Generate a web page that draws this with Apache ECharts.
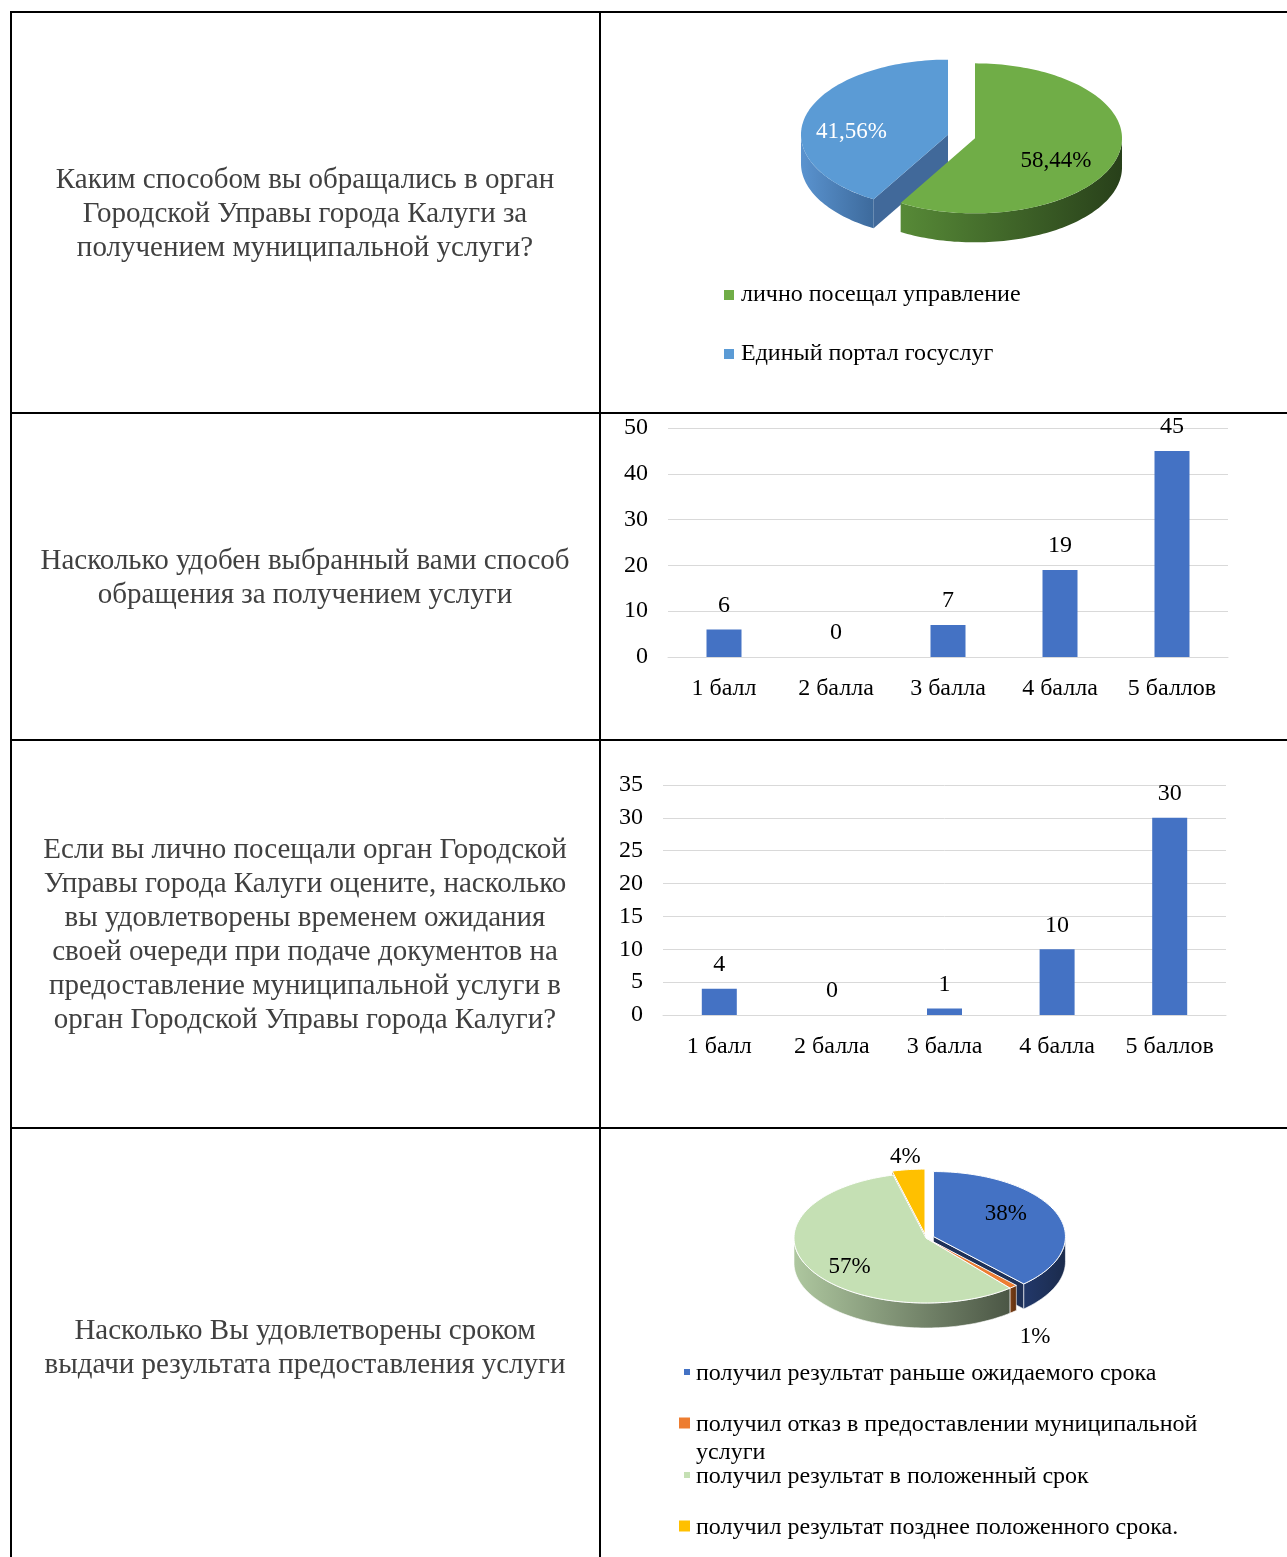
<!DOCTYPE html>
<html>
<head>
<meta charset="utf-8">
<script src="https://cdn.jsdelivr.net/npm/echarts@6/dist/echarts.min.js"></script>
<style>
  html, body { margin: 0; padding: 0; background: #fff; }
  #chart { width: 1287px; height: 1557px; }
</style>
</head>
<body>
<div id="chart"></div>
<script>
  // вопросы анкеты (левая колонка)
  const questions = [
    'Каким способом вы обращались в орган\nГородской Управы города Калуги за\nполучением муниципальной услуги?',
    'Насколько удобен выбранный вами способ\nобращения за получением услуги',
    'Если вы лично посещали орган Городской\nУправы города Калуги оцените, насколько\nвы удовлетворены временем ожидания\nсвоей очереди при подаче документов на\nпредоставление муниципальной услуги в\nорган Городской Управы города Калуги?',
    'Насколько Вы удовлетворены сроком\nвыдачи результата предоставления услуги'
  ]

  // круговая 1
  const pie1Names = ['лично посещал управление', 'Единый портал госуслуг']
  const pie1Values = [58.44, 41.56]
  const pie1Labels = ['58,44%', '41,56%']

  // столбцы 1
  const bar1Categories = ['1 балл', '2 балла', '3 балла', '4 балла', '5 баллов']
  const bar1Values = [6, 0, 7, 19, 45]
  const bar1Ticks = [0, 50, 10]

  // столбцы 2
  const bar2Categories = ['1 балл', '2 балла', '3 балла', '4 балла', '5 баллов']
  const bar2Values = [4, 0, 1, 10, 30]
  const bar2Ticks = [0, 35, 5]

  // круговая 2
  const pie2Names = [
    'получил результат раньше ожидаемого срока',
    'получил отказ в предоставлении муниципальной\nуслуги',
    'получил результат в положенный срок',
    'получил результат позднее положенного срока.'
  ]
  const pie2Values = [38, 1, 57, 4]
  const pie2Labels = ['38%', '1%', '57%', '4%']

  const FONT = '"Liberation Serif", "Times New Roman", serif'

  // оформление круговых диаграмм
  const pie1Style = {
    cx: 961.5, cy: 136.5, rx: 147, ry: 75, depth: 29,
    explode: [14, 14],
    top: ['#70AD47', '#5B9BD5'],
    wall: [['#578a37', '#28401a'], ['#5a93cf', '#3d6a9c']],
    face: ['#3b5e26', '#41699a'],
    stroke: null,
    label: [[0.57, 11, '#000'], [0.68, 11, '#fff']],
    fontSize: 23
  }
  const pie2Style = {
    cx: 926, cy: 1238, rx: 132, ry: 65, depth: 25,
    explode: [8, 0, 0, 8],
    top: ['#4472C4', '#ED7D31', '#C5E0B4', '#FFC000'],
    wall: [['#22386a', '#1b2b4c'], ['#7d4016', '#5e2f10'], ['#aec79f', '#4b5645'], ['#b88a00', '#7a5c00']],
    face: ['#1f3158', '#6b3612', '#8a9d7e', '#8f6b00'],
    stroke: '#fff',
    label: [[0.59, -8, '#000'], [1.25, 38, '#000'], [0.65, 10, '#000'], [1.19, 0, '#000']],
    fontSize: 23
  }

  function pt(cx, cy, rx, ry, deg) {
    const a = deg * Math.PI / 180
    return [cx + rx * Math.sin(a), cy - ry * Math.cos(a)]
  }

  function arc(cx, cy, rx, ry, a1, a2, dy) {
    const pts = []
    const n = Math.max(2, Math.ceil(Math.abs(a2 - a1) / 1.5))
    for (let i = 0; i <= n; i++) {
      const p = pt(cx, cy, rx, ry, a1 + (a2 - a1) * i / n)
      pts.push([p[0], p[1] + (dy || 0)])
    }
    return pts
  }

  /* псевдо-3D сектор */
  function make3DPie(values, labels, st) {
    const total = values.reduce((s, v) => s + v, 0)
    return function (params, api) {
      const i = params.dataIndex
      let a1 = 0
      for (let k = 0; k < i; k++) a1 += values[k] / total * 360
      const a2 = a1 + values[i] / total * 360
      const mid = (a1 + a2) / 2
      const m = mid * Math.PI / 180
      const d = st.explode[i] || 0
      const cx = st.cx + d * Math.sin(m)
      const cy = st.cy - d * Math.cos(m) * st.ry / st.rx
      const base = 10 + Math.round((-Math.cos(m) + 1) * 10) * 10
      const children = []
      const D = st.depth

      // боковые грани у центра (под всеми остальными)
      const faceAt = (ang) => {
        const p = pt(cx, cy, st.rx, st.ry, ang)
        children.push({
          type: 'polygon', z2: 1,
          shape: { points: [[cx, cy], p, [p[0], p[1] + D], [cx, cy + D]] },
          style: { fill: st.face[i], stroke: st.stroke, lineWidth: st.stroke ? 0.6 : 0 }
        })
      }
      if (Math.sin(a1 * Math.PI / 180) < -1e-6) faceAt(a1)
      if (Math.sin(a2 * Math.PI / 180) > 1e-6) faceAt(a2)

      // внешняя стенка (только передняя половина)
      const s = Math.max(a1, 90)
      const e = Math.min(a2, 270)
      if (e > s) {
        const topArc = arc(cx, cy, st.rx, st.ry, s, e, 0)
        const botArc = arc(cx, cy, st.rx, st.ry, e, s, D)
        children.push({
          type: 'polygon', z2: base + 1,
          shape: { points: topArc.concat(botArc) },
          style: {
            fill: {
              type: 'linear', x: 0, y: 0, x2: 1, y2: 0,
              colorStops: [{ offset: 0, color: st.wall[i][0] }, { offset: 1, color: st.wall[i][1] }]
            },
            stroke: st.stroke, lineWidth: st.stroke ? 0.6 : 0
          }
        })
      }

      // верхняя грань
      children.push({
        type: 'polygon', z2: base + 2,
        shape: { points: [[cx, cy]].concat(arc(cx, cy, st.rx, st.ry, a1, a2, 0)) },
        style: { fill: st.top[i], stroke: st.stroke, lineWidth: st.stroke ? 1 : 0 }
      })

      // подпись
      const lb = st.label[i]
      const lp = pt(cx, cy, st.rx * lb[0], st.ry * lb[0], mid)
      children.push({
        type: 'text', z2: 500,
        style: {
          text: labels[i], x: lp[0], y: lp[1] + lb[1],
          fill: lb[2], font: st.fontSize + 'px ' + FONT,
          align: 'center', verticalAlign: 'middle',
          textAlign: 'center', textVerticalAlign: 'middle'
        }
      })
      return { type: 'group', children: children }
    }
  }

  // таблица и тексты
  const lineStyle = { stroke: '#000', lineWidth: 2 }
  const graphics = []
  const rows = [12, 413, 740, 1128]
  rows.forEach(y => {
    graphics.push({ type: 'line', shape: { x1: 10, y1: y, x2: 1287, y2: y }, style: lineStyle, z: 10 })
  })
  graphics.push({ type: 'line', shape: { x1: 11, y1: 11, x2: 11, y2: 1557 }, style: lineStyle, z: 10 })
  graphics.push({ type: 'line', shape: { x1: 600, y1: 11, x2: 600, y2: 1557 }, style: lineStyle, z: 10 })

  const questionY = [214, 578, 935.5, 1348]
  questions.forEach((q, i) => {
    graphics.push({
      type: 'text', z: 10,
      style: {
        text: q, x: 305, y: questionY[i],
        font: '29px ' + FONT, fill: '#404040', lineHeight: 34,
        align: 'center', verticalAlign: 'middle',
        textAlign: 'center', textVerticalAlign: 'middle'
      }
    })
  })

  // легенды
  const legend1Y = [295, 354]
  pie1Names.forEach((n, i) => {
    graphics.push({ type: 'rect', z: 10, shape: { x: 724, y: legend1Y[i] - 5, width: 10, height: 10 }, style: { fill: pie1Style.top[i] } })
    graphics.push({
      type: 'text', z: 10,
      style: { text: n, x: 741, y: legend1Y[i], font: '24px ' + FONT, fill: '#000', verticalAlign: 'middle', textVerticalAlign: 'middle' }
    })
  })
  const legend2Y = [1373, 1424, 1476, 1527]
  const legend2Box = [6, 11, 6, 11]
  pie2Names.forEach((n, i) => {
    const b = legend2Box[i]
    graphics.push({ type: 'rect', z: 10, shape: { x: 690 - b, y: legend2Y[i] - b / 2 - 1, width: b, height: b }, style: { fill: pie2Style.top[i] } })
    graphics.push({
      type: 'text', z: 10,
      style: { text: n, x: 696, y: legend2Y[i] - 13, font: '24px ' + FONT, fill: '#000', lineHeight: 28, verticalAlign: 'top', textVerticalAlign: 'top' }
    })
  })

  const axisText = { fontFamily: FONT, fontSize: 24, color: '#000' }

  function barAxes(grid, cats, ticks) {
    return {
      x: {
        type: 'category', gridIndex: grid, data: cats,
        axisLine: { lineStyle: { color: '#d9d9d9' } },
        axisTick: { show: false },
        axisLabel: Object.assign({ margin: 20, interval: 0 }, axisText)
      },
      y: {
        type: 'value', gridIndex: grid, min: ticks[0], max: ticks[1], interval: ticks[2],
        axisLine: { show: false }, axisTick: { show: false },
        splitLine: { lineStyle: { color: '#d9d9d9', width: 1 } },
        axisLabel: Object.assign({ margin: 20 }, axisText)
      }
    }
  }
  const ax1 = barAxes(0, bar1Categories, bar1Ticks)
  const ax2 = barAxes(1, bar2Categories, bar2Ticks)

  const barLabel = { show: true, position: 'top', distance: 12, fontFamily: FONT, fontSize: 24, color: '#000' }

  const chart = echarts.init(document.getElementById('chart'))
  chart.setOption({
    backgroundColor: '#fff',
    animation: false,
    grid: [
      { left: 668, right: 59, top: 428, bottom: 900 },
      { left: 663, right: 61, top: 785, bottom: 542 }
    ],
    xAxis: [ax1.x, ax2.x],
    yAxis: [ax1.y, ax2.y],
    graphic: graphics,
    series: [
      {
        type: 'bar', xAxisIndex: 0, yAxisIndex: 0, data: bar1Values,
        barWidth: 35, itemStyle: { color: '#4472C4' }, label: barLabel
      },
      {
        type: 'bar', xAxisIndex: 1, yAxisIndex: 1, data: bar2Values,
        barWidth: 35, itemStyle: { color: '#4472C4' }, label: barLabel
      },
      {
        type: 'custom', coordinateSystem: 'none', name: 'pie1',
        data: pie1Values, renderItem: make3DPie(pie1Values, pie1Labels, pie1Style)
      },
      {
        type: 'custom', coordinateSystem: 'none', name: 'pie2',
        data: pie2Values, renderItem: make3DPie(pie2Values, pie2Labels, pie2Style)
      }
    ]
  })
</script>
</body>
</html>
